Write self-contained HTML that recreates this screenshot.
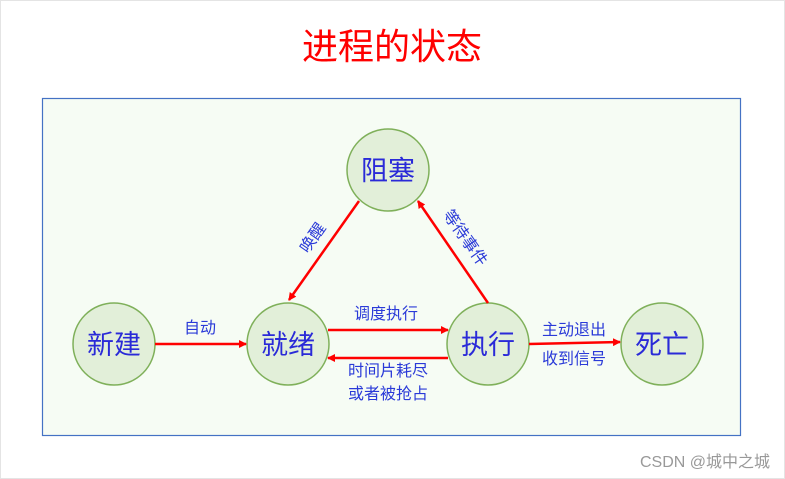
<!DOCTYPE html>
<html><head><meta charset="utf-8"><style>
html,body{margin:0;padding:0;background:#fff;}
svg{display:block;}
text{font-family:"Liberation Sans","Noto Sans CJK SC",sans-serif;}
</style></head><body>
<svg width="785" height="479" viewBox="0 0 785 479" xmlns="http://www.w3.org/2000/svg">
<defs>
<marker id="a" markerWidth="8" markerHeight="8" refX="7" refY="4" orient="auto" markerUnits="userSpaceOnUse">
<path d="M0,0 L8,4 L0,8 Z" fill="#ff0000"/></marker>
</defs>
<rect x="0.5" y="0.5" width="784" height="478" fill="#fff" stroke="#e4e4e4"/>
<text x="392" y="59" font-size="36" fill="#ff0000" text-anchor="middle">进程的状态</text>
<rect x="42.5" y="98.5" width="698" height="337" fill="#f6fcf4" stroke="#4472c4" stroke-width="1.2"/>
<g fill="#e2efd9" stroke="#7fb05a" stroke-width="1.5">
<circle cx="114" cy="344" r="41"/>
<circle cx="288" cy="344" r="41"/>
<circle cx="488" cy="344" r="41"/>
<circle cx="662" cy="344" r="41"/>
<circle cx="388" cy="170" r="41"/>
</g>
<g font-size="27" fill="#2a2ad8" text-anchor="middle">
<text x="114" y="354">新建</text>
<text x="288" y="354">就绪</text>
<text x="488" y="354">执行</text>
<text x="662" y="354">死亡</text>
<text x="388" y="180">阻塞</text>
</g>
<g stroke="#ff0000" stroke-width="2.5" fill="none" marker-end="url(#a)">
<line x1="155" y1="344" x2="246" y2="344"/>
<line x1="328" y1="330" x2="448" y2="330"/>
<line x1="448" y1="358" x2="328" y2="358"/>
<line x1="359" y1="201" x2="289" y2="300"/>
<line x1="488" y1="303" x2="418" y2="201"/>
<line x1="529" y1="344" x2="620" y2="342"/>
</g>
<g font-size="16" fill="#2a3ad8" text-anchor="middle">
<text x="200" y="333">自动</text>
<text x="386" y="319">调度执行</text>
<text x="388" y="376">时间片耗尽</text>
<text x="388" y="399">或者被抢占</text>
<text x="574" y="335">主动退出</text>
<text x="574" y="364">收到信号</text>
<text transform="translate(313,238) rotate(-55)" y="5">唤醒</text>
<text transform="translate(465,238) rotate(55)" y="5">等待事件</text>
</g>
<text x="770" y="467" font-size="16" fill="#999" text-anchor="end">CSDN @城中之城</text>
</svg>
</body></html>
